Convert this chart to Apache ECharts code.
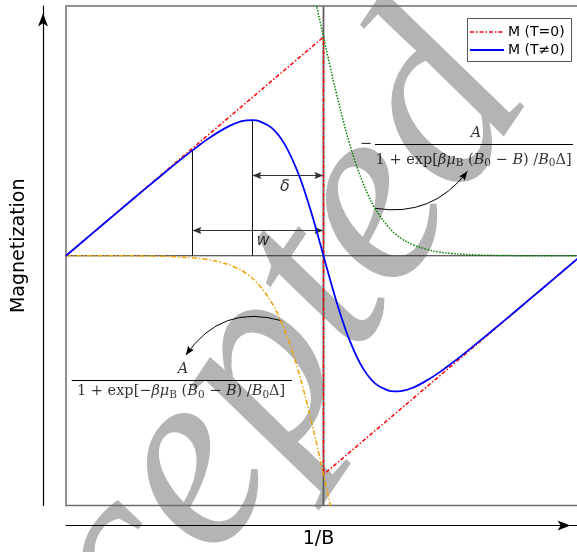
<!DOCTYPE html>
<html>
<head>
<meta charset="utf-8">
<script src="https://cdn.jsdelivr.net/npm/echarts@6/dist/echarts.min.js"></script>
<style>
  html, body { margin: 0; padding: 0; background: #ffffff; }
  #chart { width: 577px; height: 552px; }
</style>
</head>
<body>
<div id="chart"></div>
<script>
// Magnetisation versus inverse field: ideal sawtooth (T = 0) and its thermally
// smeared form (T ≠ 0), with the two Fermi-type terms that produce the smearing.
// x: 1/B in units where the jump at B0 sits at 1; y: magnetisation.

const xRed = [0, 1, 1, 2];
const yRed = [0, 0.876, -0.876, 0];

const xBlue = [0, 0.1, 0.2, 0.3, 0.4, 0.45, 0.5, 0.55, 0.6, 0.65, 0.7, 0.725, 0.75, 0.8, 0.85, 0.9, 0.925, 0.95, 0.975,
               1.0, 1.025, 1.05, 1.075, 1.1, 1.15, 1.2, 1.25, 1.275, 1.3, 1.35, 1.4, 1.45, 1.5, 1.55, 1.6, 1.7, 1.8, 1.9, 2.0];
const yBlue = [0, 0.0876, 0.1748, 0.2617, 0.347, 0.3888, 0.429, 0.467, 0.500, 0.527, 0.542, 0.543, 0.539, 0.511, 0.445, 0.335, 0.263, 0.182, 0.093,
               0, -0.093, -0.182, -0.263, -0.335, -0.445, -0.511, -0.539, -0.543, -0.542, -0.527, -0.500, -0.467, -0.429, -0.3888, -0.347, -0.2617, -0.1748, -0.0876, 0];

const xGreen = [0.95, 0.975, 1.0, 1.025, 1.05, 1.075, 1.1, 1.125, 1.15, 1.175, 1.2, 1.25, 1.3, 1.35, 1.4, 1.45, 1.5, 1.6, 1.7, 1.8, 2.0];
const yGreen = [1.101, 0.991, 0.876, 0.761, 0.651, 0.547, 0.453, 0.371, 0.300, 0.240, 0.190, 0.118, 0.071, 0.043, 0.026, 0.015, 0.009, 0.003, 0.001, 0, 0];

const xYellow = [0, 0.2, 0.3, 0.4, 0.5, 0.55, 0.6, 0.65, 0.7, 0.75, 0.8, 0.825, 0.85, 0.875, 0.9, 0.925, 0.95, 0.975, 1.0, 1.025, 1.05];
const yYellow = [0, 0, -0.001, -0.003, -0.009, -0.015, -0.026, -0.043, -0.071, -0.118, -0.190, -0.240, -0.300, -0.371, -0.453, -0.547, -0.651, -0.761, -0.876, -0.991, -1.101];

// guides marking the widths w and δ
const xWidthStart = 0.4905, yWidthStart = 0.4215;   // where the smeared curve leaves the ramp
const xPeak = 0.7235, yPeak = 0.5434;               // maximum of the smeared curve
const xJump = 1;                                    // B0
const yDeltaArrow = 0.321, yWArrow = 0.101;

const legendNames = ['M (T=0)', 'M (T\u22600)'];

const pairs = (xs, ys) => xs.map((x, i) => [x, ys[i]]);

const denomUpper = '{n|1 + exp[}{i|βμ}{s|B}{n| (}{i|B}{s|0}{n| − }{i|B}{n|) /}{i|B}{s|0}{n|Δ]}';
const denomLower = '{n|1 + exp[−}{i|βμ}{s|B}{n| (}{i|B}{s|0}{n| − }{i|B}{n|) /}{i|B}{s|0}{n|Δ]}';

const textAnchors = [
  { pos: [0.8505, 0.276], text: '{g|δ}' },
  { pos: [0.765, 0.060], text: '{g|w}' },
  { pos: [1.592, 0.490], text: '{i|A}' },
  { pos: [1.164, 0.447], text: '{n|−}' },
  { pos: [1.583, 0.384], text: denomUpper },
  { pos: [0.454, -0.454], text: '{i|A}' },
  { pos: [0.447, -0.543], text: denomLower }
];

const fractionBars = [
  [[1.2, 0.447], [1.969, 0.447]],
  [[0.0221, -0.4988], [0.8777, -0.4988]]
];

const curvedArrows = [
  { from: [1.2, 0.19], to: [1.559, 0.338], bend: -0.3 },
  { from: [0.8373, -0.26], to: [0.4656, -0.398], bend: -0.36 }
];

// arrow head whose tip is at the symbol centre
const headPath = 'path://M0,-9 M0,0 L3.5,9 L0,7.6 L-3.5,9 Z';

const serifRich = {
  n: { fontFamily: 'DejaVu Serif', fontSize: 14.5, color: '#000', verticalAlign: 'middle' },
  i: { fontFamily: 'DejaVu Serif', fontStyle: 'italic', fontSize: 14.5, color: '#000', verticalAlign: 'middle' },
  s: { fontFamily: 'DejaVu Serif', fontSize: 10.5, color: '#000', verticalAlign: 'middle', padding: [7, 0, 0, 0] },
  g: { fontFamily: 'DejaVu Sans', fontStyle: 'italic', fontSize: 16, color: '#000', verticalAlign: 'middle' }
};

const chart = echarts.init(document.getElementById('chart'), null, { renderer: 'canvas' });

chart.setOption({
  animation: false,
  backgroundColor: '#ffffff',
  grid: {
    left: 66, top: 6, right: -4, bottom: 46.5,
    show: true, borderColor: '#6e6e6e', borderWidth: 1.5,
    backgroundColor: 'transparent', containLabel: false, outerBoundsMode: 'none'
  },
  xAxis: {
    type: 'value', min: 0, max: 2, offset: 20,
    axisLine: {
      show: true, onZero: false,
      lineStyle: { color: '#000', width: 1.2 },
      symbol: ['none', 'arrow'], symbolSize: [7.5, 13], symbolOffset: [0, -10.5]
    },
    axisTick: { show: false }, axisLabel: { show: false }, splitLine: { show: false },
    name: '1/B', nameLocation: 'middle', nameGap: 4,
    nameTextStyle: { fontFamily: 'DejaVu Sans', fontSize: 19, color: '#000', padding: [0, 10, 0, 0] }
  },
  yAxis: {
    type: 'value', min: -1, max: 1, offset: 23,
    axisLine: {
      show: true, onZero: false,
      lineStyle: { color: '#000', width: 1.2 },
      symbol: ['none', 'arrow'], symbolSize: [7.5, 13], symbolOffset: [0, -7.5]
    },
    axisTick: { show: false }, axisLabel: { show: false }, splitLine: { show: false },
    name: 'Magnetization', nameLocation: 'middle', nameGap: 14,
    nameTextStyle: { fontFamily: 'DejaVu Sans', fontSize: 19, color: '#000', padding: [0, 0, 0, 20] }
  },
  graphic: [
    {
      type: 'text', x: 208, y: 452, rotation: 56 * Math.PI / 180, z: -10, silent: true,
      style: {
        text: 'Accepted', font: 'italic 262px "Liberation Serif"', fill: '#b4b4b4',
        align: 'center', verticalAlign: 'middle', textAlign: 'center', textVerticalAlign: 'middle'
      }
    },
    {
      type: 'group', z: 100, silent: true,
      children: [
        { type: 'rect', shape: { x: 467.5, y: 18.5, width: 104, height: 43 },
          style: { fill: '#ffffff', stroke: '#555555', lineWidth: 1 } },
        { type: 'line', shape: { x1: 470, y1: 32, x2: 504, y2: 32 },
          style: { stroke: '#ff0000', lineWidth: 1.5, lineDash: [4, 2, 1.5, 2] } },
        { type: 'text', x: 508, y: 32,
          style: { text: legendNames[0], font: '14px "DejaVu Sans"', fill: '#000',
                   verticalAlign: 'middle', textVerticalAlign: 'middle' } },
        { type: 'line', shape: { x1: 470, y1: 50, x2: 504, y2: 50 },
          style: { stroke: '#0000ff', lineWidth: 1.8 } },
        { type: 'text', x: 508, y: 50,
          style: { text: legendNames[1], font: '14px "DejaVu Sans"', fill: '#000',
                   verticalAlign: 'middle', textVerticalAlign: 'middle' } }
      ]
    }
  ],
  series: [
    { type: 'line', data: [[0, 0], [2, 0]], symbol: 'none', silent: true,
      lineStyle: { color: '#2a2a2a', width: 1 } },
    { type: 'line', data: [[xJump, -1], [xJump, 1]], symbol: 'none', silent: true,
      lineStyle: { color: '#5f5f5f', width: 1.8 } },
    { type: 'lines', coordinateSystem: 'cartesian2d', silent: true, symbol: 'none',
      lineStyle: { color: '#111111', width: 1, opacity: 1 },
      data: [
        { coords: [[xWidthStart, 0], [xWidthStart, yWidthStart]] },
        { coords: [[xPeak, 0], [xPeak, yPeak]] }
      ] },
    { name: legendNames[0], type: 'line', data: pairs(xRed, yRed), symbol: 'none', silent: true,
      lineStyle: { color: '#ff0000', width: 1.5, type: [4, 2, 1.5, 2] } },
    { type: 'line', data: pairs(xGreen, yGreen), symbol: 'none', silent: true, smooth: 0.4,
      lineStyle: { color: '#008000', width: 1.5, type: [1.5, 1.5] } },
    { type: 'line', data: pairs(xYellow, yYellow), symbol: 'none', silent: true, smooth: 0.4,
      lineStyle: { color: '#eea20a', width: 1.5, type: [5, 2, 1.5, 2] } },
    { name: legendNames[1], type: 'line', data: pairs(xBlue, yBlue), symbol: 'none', silent: true, smooth: 0.4,
      lineStyle: { color: '#0000ff', width: 1.8 } },
    { type: 'lines', coordinateSystem: 'cartesian2d', silent: true,
      symbol: [headPath, headPath], symbolSize: [[7, 18], [7, 18]],
      lineStyle: { color: '#333333', width: 1.2, opacity: 1 },
      itemStyle: { color: '#000' },
      data: [
        { coords: [[xPeak, yDeltaArrow], [xJump, yDeltaArrow]] },
        { coords: [[xWidthStart, yWArrow], [xJump, yWArrow]] }
      ] },
    { type: 'lines', coordinateSystem: 'cartesian2d', silent: true,
      symbol: ['none', headPath], symbolSize: [[7, 18], [7, 18]],
      lineStyle: { color: '#000000', width: 1, opacity: 1 },
      data: curvedArrows.map(a => ({ coords: [a.from, a.to], lineStyle: { curveness: a.bend } })) },
    { type: 'lines', coordinateSystem: 'cartesian2d', silent: true, symbol: 'none',
      lineStyle: { color: '#000000', width: 1, opacity: 1 },
      data: fractionBars.map(c => ({ coords: c })) },
    { type: 'scatter', silent: true, symbolSize: 0, z: 10,
      label: { show: true, position: 'inside', color: '#000', align: 'center', verticalAlign: 'middle', rich: serifRich },
      data: textAnchors.map(t => ({ value: t.pos, label: { formatter: () => t.text } })) }
  ]
});
</script>
</body>
</html>
